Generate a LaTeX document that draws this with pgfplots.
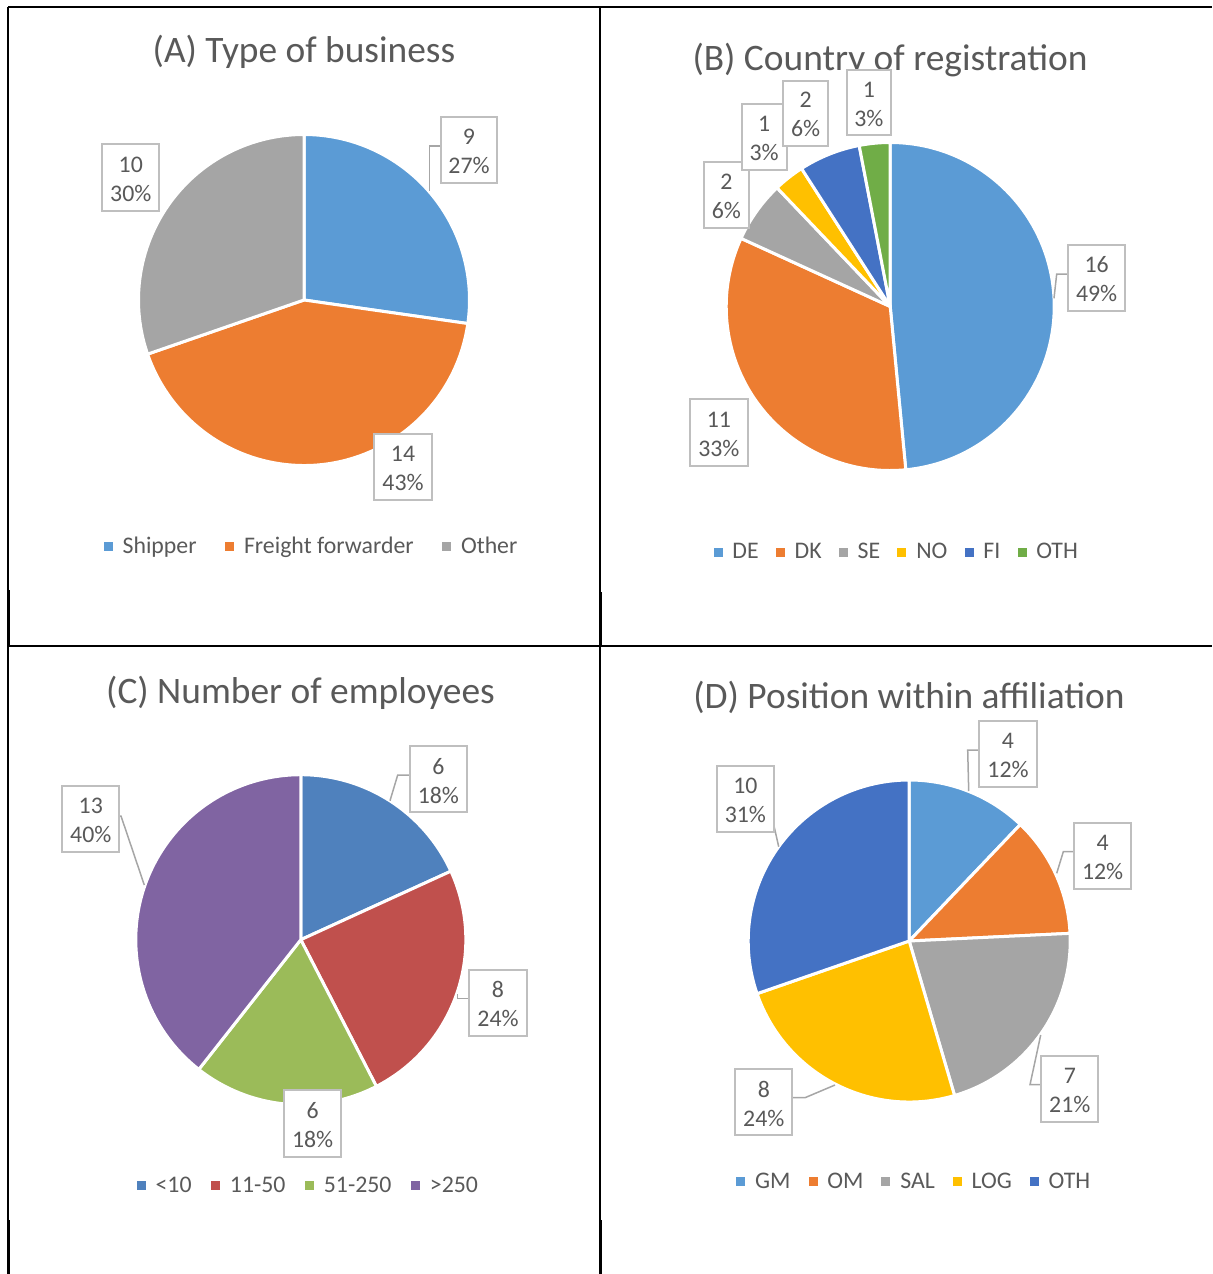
\documentclass[border=0pt]{standalone}
\usepackage{pgfplots}
\pgfplotsset{compat=1.18}
\usepackage{fontspec}
\setmainfont{Carlito}
\definecolor{txt}{HTML}{595959}
\definecolor{boxc}{HTML}{BFBFBF}
\definecolor{leadc}{HTML}{A6A6A6}
\definecolor{oBlue}{HTML}{5B9BD5}
\definecolor{oOrange}{HTML}{ED7D31}
\definecolor{oGray}{HTML}{A5A5A5}
\definecolor{oGold}{HTML}{FFC000}
\definecolor{oDBlue}{HTML}{4472C4}
\definecolor{oGreen}{HTML}{70AD47}
\definecolor{cBlue}{HTML}{4F81BD}
\definecolor{cRed}{HTML}{C0504D}
\definecolor{cGreen}{HTML}{9BBB59}
\definecolor{cPurple}{HTML}{8064A2}
\newcommand\lfont{\fontsize{11.9}{14.5}\selectfont}
\newcommand\tfont{\fontsize{18.7}{22}\selectfont}
% one pie slice: value, colour; angles run clockwise from 12 o'clock
\newcommand\slice[2]{%
  \pgfmathsetmacro\aS{90-360*\cum/\tot}%
  \pgfmathsetmacro\aD{-360*#1/\tot}%
  \edef\tmp{\noexpand\fill[#2,draw=white,line width=1.5pt,line join=round] (axis cs:0,0) -- ++(\aS:\R) arc[start angle=\aS, delta angle=\aD, radius=\R] -- cycle;}%
  \tmp
  \pgfmathsetmacro\cum{\cum+#1}%
}
\newcommand\lbox[6]{%
  \draw[boxc,fill=white,line width=1pt] (#1,#2) rectangle (#3,#4);
  \node[font=\lfont,text=txt,align=center,inner sep=0pt] at ({(#1+#3)/2},{(#2+#4)/2+1.5}) {#5\\#6};}
\pgfplotsset{pie/.style={hide axis, scale only axis, clip=false,
  xmin=-1,xmax=1,ymin=-1,ymax=1, anchor=center,
  legend columns=-1,
  legend style={draw=none, fill=none, inner sep=0pt, font=\lfont, text=txt, anchor=center},
  legend image code/.code={\fill[##1] (0pt,-2pt) rectangle (4pt,2pt); \path (7pt,0pt);}}}
\begin{document}
\begin{tikzpicture}
\useasboundingbox (0,0) rectangle (606pt,-637pt);
% (A)
\def\tot{33}\def\R{82.75pt}\def\cum{0}
\begin{axis}[pie, at={(152pt,-150pt)}, width=165.5pt, height=165.5pt,
  legend style={at={(0.526,-0.244)},/tikz/every even column/.append style={column sep=12.3pt}}]
\slice{9}{oBlue}
\slice{14}{oOrange}
\slice{10}{oGray}
\addlegendimage{oBlue}\addlegendentry{Shipper}
\addlegendimage{oOrange}\addlegendentry{Freight forwarder}
\addlegendimage{oGray}\addlegendentry{Other}
\end{axis}
% (B)
\def\tot{33}\def\R{82pt}\def\cum{0}
\begin{axis}[pie, at={(445.1pt,-153.25pt)}, width=164pt, height=164pt,
  legend style={at={(0.523,-0.2485)},/tikz/every even column/.append style={column sep=6.6pt}}]
\slice{16}{oBlue}
\slice{11}{oOrange}
\slice{2}{oGray}
\slice{1}{oGold}
\slice{2}{oDBlue}
\slice{1}{oGreen}
\addlegendimage{oBlue}\addlegendentry{DE}
\addlegendimage{oOrange}\addlegendentry{DK}
\addlegendimage{oGray}\addlegendentry{SE}
\addlegendimage{oGold}\addlegendentry{NO}
\addlegendimage{oDBlue}\addlegendentry{FI}
\addlegendimage{oGreen}\addlegendentry{OTH}
\end{axis}
% (C)
\def\tot{33}\def\R{82.5pt}\def\cum{0}
\begin{axis}[pie, at={(150.4pt,-469.85pt)}, width=165pt, height=165pt,
  legend style={at={(0.526,-0.246)},/tikz/every even column/.append style={column sep=7.8pt}}]
\slice{6}{cBlue}
\slice{8}{cRed}
\slice{6}{cGreen}
\slice{13}{cPurple}
\addlegendimage{cBlue}\addlegendentry{<10}
\addlegendimage{cRed}\addlegendentry{11-50}
\addlegendimage{cGreen}\addlegendentry{51-250}
\addlegendimage{cPurple}\addlegendentry{>250}
\end{axis}
% (D)
\def\tot{33}\def\R{80.5pt}\def\cum{0}
\begin{axis}[pie, at={(454.6pt,-470.5pt)}, width=161pt, height=161pt,
  legend style={at={(0.519,-0.248)},/tikz/every even column/.append style={column sep=7pt}}]
\slice{4}{oBlue}
\slice{4}{oOrange}
\slice{7}{oGray}
\slice{8}{oGold}
\slice{10}{oDBlue}
\addlegendimage{oBlue}\addlegendentry{GM}
\addlegendimage{oOrange}\addlegendentry{OM}
\addlegendimage{oGray}\addlegendentry{SAL}
\addlegendimage{oGold}\addlegendentry{LOG}
\addlegendimage{oDBlue}\addlegendentry{OTH}
\end{axis}
\begin{scope}[x=0.5pt,y=-0.5pt]
% frame
\draw[black,line width=1pt] (8,7) -- (1212,7);
\draw[black,line width=1pt] (8,646) -- (1212,646);
\draw[black,line width=0.6pt] (8,7) -- (8,1274);
\draw[black,line width=0.6pt] (600,7) -- (600,1274);
\draw[black,line width=1pt] (8.5,590) -- (8.5,646);
\draw[black,line width=1pt] (600.5,592) -- (600.5,646);
\draw[black,line width=1pt] (8.5,1220) -- (8.5,1274);
\draw[black,line width=1pt] (600.5,1220) -- (600.5,1274);
% titles
\node[font=\tfont,text=txt,anchor=base] at (304,62) {(A) Type of business};
\node[font=\tfont,text=txt,anchor=base] at (890,70) {(B) Country of registration};
\node[font=\tfont,text=txt,anchor=base] at (300.5,703) {(C) Number of employees};
\node[font=\tfont,text=txt,anchor=base] at (909,708) {(D) Position within affiliation};
% leader lines
\begin{scope}[leadc,line width=0.75pt]
\draw (440.7,146) -- (429.3,146) -- (429.3,191);
\draw (1068.3,274) -- (1056.7,274) -- (1054,298.3);
\draw (410,775) -- (397.7,775) -- (390,800.7);
\draw (469.3,998.3) -- (457.3,998.3) -- (457.3,994.3);
\draw (119.3,816) -- (121,816) -- (144.3,885);
\draw (979.3,750) -- (967.7,750) -- (968.7,791);
\draw (1074.3,851.7) -- (1063.3,851.7) -- (1056.7,873.3);
\draw (1041.3,1084.7) -- (1030,1084.7) -- (1040.7,1035);
\draw (792.3,1097.7) -- (805,1097.7) -- (835,1085);
\draw (774,826) -- (778.7,846.7);
\end{scope}
% data labels
\lbox{440.7}{117.3}{497.3}{182.7}{9}{27\%}
\lbox{102.3}{144.3}{159.3}{211}{10}{30\%}
\lbox{374.3}{434}{431.7}{500}{14}{43\%}
\lbox{1068.3}{245}{1125}{310.7}{16}{49\%}
\lbox{690}{399.3}{747.7}{465.7}{11}{33\%}
\lbox{704}{162.3}{748.7}{227.7}{2}{6\%}
\lbox{741.7}{104.3}{786.7}{170}{1}{3\%}
\lbox{783.3}{80.7}{828}{146}{2}{6\%}
\lbox{846.7}{70}{891}{135}{1}{3\%}
\lbox{410}{746}{466.7}{812.3}{6}{18\%}
\lbox{469.3}{970}{526.7}{1035.7}{8}{24\%}
\lbox{284.3}{1090}{341}{1156.7}{6}{18\%}
\lbox{62.3}{785.7}{119.3}{852.3}{13}{40\%}
\lbox{979.3}{720.7}{1036.7}{786.7}{4}{12\%}
\lbox{1074.3}{822.7}{1131}{889}{4}{12\%}
\lbox{1041.3}{1055.7}{1098.3}{1121.7}{7}{21\%}
\lbox{735.3}{1069}{792.3}{1135}{8}{24\%}
\lbox{716.7}{766}{774}{832}{10}{31\%}
\end{scope}
\end{tikzpicture}
\end{document}
